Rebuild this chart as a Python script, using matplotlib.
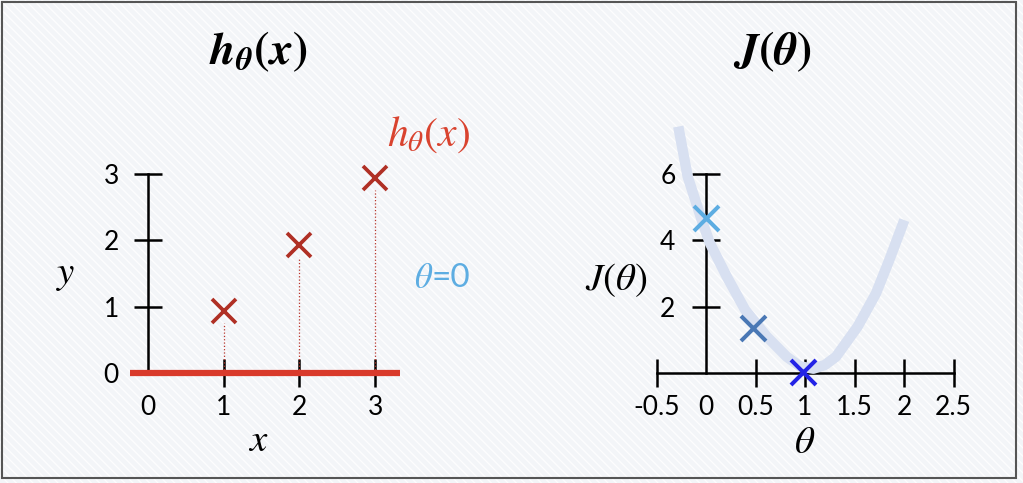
import matplotlib.pyplot as plt
from matplotlib.patches import Rectangle

plt.rcParams['mathtext.fontset'] = 'stix'
plt.rcParams['font.family'] = ['Lato', 'DejaVu Sans']

# left panel data
x_pts = [1, 2, 3]
y_pts = [0.93, 1.93, 2.94]
h_line_x = [-0.24, 3.33]
h_line_y = [0, 0]
left_xticks = [0, 1, 2, 3]
left_yticks = [0, 1, 2, 3]

# right panel data (cost curve)
theta_curve = [-0.28, -0.185, -0.043, 0.04, 0.209, 0.394, 0.613, 0.815, 0.95,
               1.084, 1.20, 1.313, 1.532, 1.717, 1.852, 2.003]
J_curve = [7.43, 5.92, 4.61, 3.91, 2.91, 1.91, 1.10, 0.49, 0.20,
           0.13, 0.24, 0.49, 1.40, 2.40, 3.41, 4.61]
theta_pts = [0.0, 0.47, 0.98]
J_pts = [4.67, 1.35, 0.02]
J_colors = ['#5dade2', '#4a78b5', '#2323e6']
right_xticks = [-0.5, 0, 0.5, 1, 1.5, 2, 2.5]
right_xlabels = ['-0.5', '0', '0.5', '1', '1.5', '2', '2.5']
right_yticks = [2, 4, 6]

W, H = 1023, 483
fig = plt.figure(figsize=(W / 100, H / 100), dpi=100)


def px(x, y):
    return x / W, 1 - y / H


# background with faint diagonal stripes and border
bg = Rectangle((0, 0), 1, 1, transform=fig.transFigure, facecolor='#f3f5f8',
               edgecolor='#fdfdfe', hatch='\\\\\\\\', linewidth=0, zorder=-10)
fig.patches.append(bg)
x0, y0 = px(2, 478)
x1, y1 = px(1016, 2)
fig.patches.append(Rectangle((x0, y0), x1 - x0, y1 - y0, transform=fig.transFigure,
                             fill=False, edgecolor='#555555', linewidth=1.5, zorder=10))


def make_axes(left, right, bottom, top):
    l, b = px(left, bottom)
    r, t = px(right, top)
    ax = fig.add_axes([l, b, r - l, t - b])
    ax.patch.set_alpha(0)
    for s in ['top', 'right']:
        ax.spines[s].set_visible(False)
    ax.spines['left'].set_position(('data', 0))
    ax.spines['bottom'].set_position(('data', 0))
    for s in ['left', 'bottom']:
        ax.spines[s].set_linewidth(1.8)
    ax.tick_params(direction='inout', length=20, width=1.8, labelsize=19)
    ax.tick_params(axis='x', pad=6)
    ax.tick_params(axis='y', pad=11)
    return ax


# ---- left: h_theta(x)
ax1 = make_axes(100, 420, 400, 150)
ax1.set_xlim((100 - 148) / 75.7, (420 - 148) / 75.7)
ax1.set_ylim((373 - 400) / 66.3, (373 - 150) / 66.3)
ax1.spines['left'].set_bounds(0, 3)
ax1.spines['bottom'].set_bounds(0, 3)
ax1.set_xticks(left_xticks)
ax1.set_yticks(left_yticks)
ax1.xaxis.get_major_ticks()[0].tick1line.set_visible(False)
ax1.plot(h_line_x, h_line_y, color='#d93a2b', lw=4.5, solid_capstyle='butt', zorder=3)
for xv, yv in zip(x_pts, y_pts):
    ax1.plot([xv, xv], [0, yv - 0.18], color='#b8342a', lw=0.9, ls=':', zorder=2)
ax1.plot(x_pts, y_pts, 'x', color='#b03025', ms=17, mew=2.7, zorder=4)

# ---- right: J(theta)
ax2 = make_axes(620, 980, 400, 110)
ax2.set_xlim((620 - 706) / 99, (980 - 706) / 99)
ax2.set_ylim((373 - 400) / 33.17, (373 - 110) / 33.17)
ax2.spines['left'].set_bounds(0, 6)
ax2.spines['bottom'].set_bounds(-0.5, 2.5)
ax2.set_xticks(right_xticks, right_xlabels)
ax2.set_yticks(right_yticks)
ax2.tick_params(axis='y', pad=12)
ax2.xaxis.get_major_ticks()[1].tick1line.set_visible(False)
ax2.plot(theta_curve, J_curve, color='#d8e0f1', lw=7.5, solid_capstyle='butt',
         solid_joinstyle='round', zorder=3)
for tv, jv, c in zip(theta_pts, J_pts, J_colors):
    ax2.plot(tv, jv, 'x', color=c, ms=18, mew=2.9, zorder=4)

# ---- texts
fig.text(*px(258, 52), r'$\mathbfit{h}_{\mathbfit{\theta}}\mathbf{(}\mathbfit{x}\mathbf{)}$',
         fontsize=33, ha='center', va='center')
fig.text(*px(772, 52), r'$\mathbfit{J}\mathbf{(}\mathbfit{\theta}\mathbf{)}$',
         fontsize=33, ha='center', va='center')
fig.text(*px(428, 135), r'$h_{\theta}(x)$', fontsize=30, color='#d9432f', ha='center', va='center')
fig.text(*px(424, 278), r'$\theta$', fontsize=25, color='#5dade2', ha='center', va='center')
fig.text(*px(432, 278), '=0', fontsize=24, color='#5dade2', ha='left', va='center')
fig.text(*px(66, 275), r'$y$', fontsize=28, ha='center', va='center')
fig.text(*px(258, 440), r'$x$', fontsize=28, ha='center', va='center')
fig.text(*px(616, 280), r'$J(\theta)$', fontsize=28, ha='center', va='center')
fig.text(*px(805, 442), r'$\theta$', fontsize=28, ha='center', va='center')

fig.savefig('out.png', dpi=100)
